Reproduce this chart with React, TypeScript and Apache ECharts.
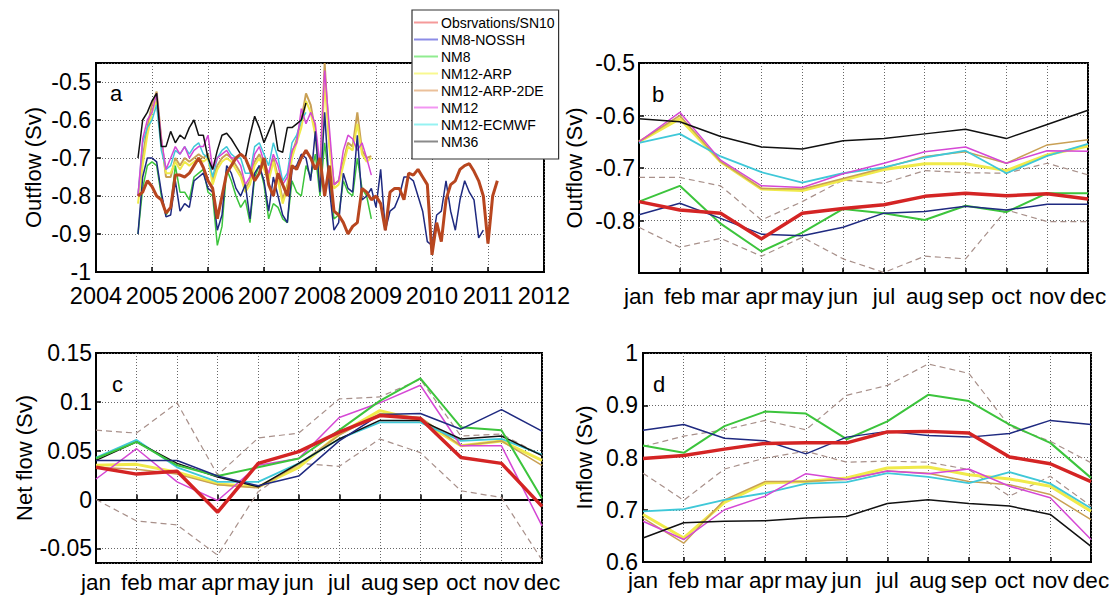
import React, { useEffect, useRef } from 'react';
import * as echarts from 'echarts';

const NAMES = ['Obsrvations/SN10', 'NM8-NOSSH', 'NM8', 'NM12-ARP', 'NM12-ARP-2DE', 'NM12', 'NM12-ECMWF', 'NM36'];
const MONTHS = ['jan', 'feb', 'mar', 'apr', 'may', 'jun', 'jul', 'aug', 'sep', 'oct', 'nov', 'dec'];
const A_START = 2004.75; // Oct 2004, monthly values

// Panel a: monthly outflow time series (Sv)
const obsA = [
  -0.80, -0.79, -0.76,
  -0.775, -0.80, -0.81, -0.845, -0.83, -0.745, -0.745, -0.75, -0.74, -0.72, -0.70, -0.725,
  -0.76, -0.78, -0.86, -0.80, -0.74, -0.72, -0.70, -0.69, -0.70, -0.73, -0.76, -0.74,
  -0.70, -0.77, -0.80, -0.74, -0.77, -0.80, -0.72, -0.73, -0.70, -0.68, -0.70, -0.73,
  -0.70, -0.80, -0.72, -0.84, -0.85, -0.87, -0.90, -0.88, -0.87, -0.78, -0.79, -0.81,
  -0.80, -0.82, -0.89, -0.79, -0.78, -0.78, -0.81, -0.74, -0.745, -0.73, -0.75, -0.77,
  -0.955, -0.87, -0.92, -0.81, -0.77, -0.76, -0.73, -0.72, -0.715, -0.735, -0.76, -0.80,
  -0.925, -0.80, -0.76,
];
const nosshA = [
  -0.90, -0.75, -0.70,
  -0.70, -0.71, -0.79, -0.855, -0.85, -0.76, -0.84, -0.82, -0.83, -0.76, -0.75, -0.74,
  -0.78, -0.79, -0.89, -0.85, -0.72, -0.74, -0.78, -0.80, -0.77, -0.86, -0.74, -0.72,
  -0.76, -0.84, -0.75, -0.80, -0.85, -0.87, -0.73, -0.72, -0.69, -0.70, -0.76, -0.63,
  -0.79, -0.58, -0.78, -0.89, -0.87, -0.74, -0.78, -0.79, -0.64, -0.81, -0.80, -0.78,
  -0.83, -0.73, -0.89, -0.84, -0.83, -0.80, -0.75, -0.75, -0.76, -0.80, -0.84, -0.92,
  -0.93, -0.85, -0.84, -0.76, -0.84, -0.89, -0.81, -0.76, -0.79, -0.81, -0.91, -0.89,
];
const nm8A = [
  -0.90, -0.78, -0.72,
  -0.71, -0.72, -0.80, -0.85, -0.83, -0.72, -0.79, -0.79, -0.81, -0.75, -0.74, -0.73,
  -0.79, -0.80, -0.93, -0.88, -0.73, -0.76, -0.80, -0.83, -0.81, -0.87, -0.75, -0.72,
  -0.77, -0.86, -0.82, -0.83, -0.86, -0.87, -0.76, -0.79, -0.80, -0.72, -0.75, -0.69,
  -0.80, -0.66, -0.76, -0.86, -0.85, -0.76, -0.79, -0.80, -0.70, -0.78, -0.80, -0.86,
];
const arpA = [
  -0.82, -0.72, -0.64,
  -0.58, -0.55, -0.66, -0.74, -0.74, -0.71, -0.73, -0.71, -0.72, -0.71, -0.70, -0.71,
  -0.70, -0.77, -0.73, -0.71, -0.70, -0.71, -0.73, -0.75, -0.79, -0.77, -0.72, -0.70,
  -0.73, -0.76, -0.71, -0.76, -0.82, -0.78, -0.70, -0.66, -0.62, -0.55, -0.58, -0.64,
  -0.76, -0.50, -0.67, -0.78, -0.77, -0.72, -0.67, -0.68, -0.61, -0.69, -0.71, -0.70,
];
const arp2deA = [
  -0.80, -0.70, -0.62,
  -0.56, -0.525, -0.65, -0.75, -0.75, -0.70, -0.72, -0.70, -0.71, -0.70, -0.69, -0.70,
  -0.69, -0.76, -0.72, -0.70, -0.69, -0.70, -0.72, -0.74, -0.78, -0.76, -0.71, -0.69,
  -0.72, -0.75, -0.70, -0.75, -0.81, -0.77, -0.69, -0.65, -0.60, -0.53, -0.56, -0.63,
  -0.75, -0.45, -0.66, -0.77, -0.76, -0.71, -0.66, -0.67, -0.58, -0.68, -0.70, -0.695,
];
const nm12A = [
  -0.80, -0.65, -0.60,
  -0.58, -0.53, -0.65, -0.73, -0.70, -0.67, -0.69, -0.67, -0.70, -0.68, -0.67, -0.67,
  -0.64, -0.73, -0.70, -0.69, -0.68, -0.70, -0.70, -0.72, -0.77, -0.75, -0.69, -0.67,
  -0.71, -0.74, -0.69, -0.72, -0.77, -0.75, -0.68, -0.66, -0.57, -0.61, -0.58, -0.61,
  -0.72, -0.47, -0.62, -0.77, -0.76, -0.68, -0.64, -0.65, -0.68, -0.66, -0.70, -0.745,
];
const ecmwfA = [
  -0.80, -0.66, -0.62,
  -0.60, -0.56, -0.68, -0.73, -0.72, -0.68, -0.69, -0.67, -0.69, -0.67, -0.66, -0.69,
  -0.70, -0.75, -0.70, -0.68, -0.67, -0.69, -0.70, -0.70, -0.74, -0.74, -0.67, -0.66,
  -0.69, -0.72, -0.66, -0.70, -0.76, -0.74, -0.66, -0.64, -0.60, -0.58,
];
const nm36A = [
  -0.70, -0.60, -0.58,
  -0.55, -0.53, -0.67, -0.67, -0.63, -0.66, -0.64, -0.65, -0.62, -0.60, -0.64, -0.64,
  -0.70, -0.73, -0.68, -0.64, -0.635, -0.65, -0.67, -0.69, -0.70, -0.64, -0.59, -0.62,
  -0.66, -0.63, -0.60, -0.68, -0.685, -0.62, -0.62, -0.61, -0.60, -0.555,
];

// Panel b: monthly climatology of outflow (Sv)
const obsB = [-0.764, -0.78, -0.786, -0.835, -0.786, -0.777, -0.77, -0.754, -0.748, -0.753, -0.749, -0.759];
const nosshB = [-0.789, -0.767, -0.796, -0.826, -0.829, -0.813, -0.786, -0.783, -0.773, -0.78, -0.769, -0.769];
const nm8B = [-0.764, -0.734, -0.806, -0.859, -0.823, -0.778, -0.786, -0.799, -0.772, -0.784, -0.748, -0.748];
const arpB = [-0.65, -0.606, -0.688, -0.74, -0.743, -0.723, -0.703, -0.692, -0.692, -0.705, -0.675, -0.658];
const arp2deB = [-0.65, -0.6, -0.688, -0.739, -0.74, -0.72, -0.7, -0.678, -0.669, -0.691, -0.656, -0.646];
const nm12B = [-0.65, -0.594, -0.685, -0.734, -0.737, -0.711, -0.691, -0.669, -0.66, -0.691, -0.667, -0.668];
const ecmwfB = [-0.652, -0.635, -0.678, -0.708, -0.728, -0.71, -0.699, -0.68, -0.667, -0.71, -0.677, -0.654];
const nm36B = [-0.606, -0.612, -0.64, -0.66, -0.664, -0.648, -0.644, -0.635, -0.626, -0.644, -0.617, -0.59];
const upB = [-0.718, -0.718, -0.734, -0.799, -0.764, -0.723, -0.729, -0.705, -0.709, -0.71, -0.691, -0.713];
const loB = [-0.813, -0.851, -0.834, -0.868, -0.832, -0.873, -0.899, -0.868, -0.873, -0.78, -0.802, -0.802];

// Panel c: net flow (Sv)
const obsC = [0.033, 0.026, 0.029, -0.013, 0.037, 0.049, 0.069, 0.086, 0.083, 0.043, 0.037, -0.007];
const nosshC = [0.04, 0.04, 0.04, 0.024, 0.014, 0.024, 0.06, 0.087, 0.088, 0.072, 0.092, 0.07];
const nm8C = [0.042, 0.059, 0.035, 0.024, 0.033, 0.042, 0.071, 0.101, 0.124, 0.074, 0.071, 0.001];
const arpC = [0.035, 0.036, 0.028, 0.016, 0.013, 0.033, 0.067, 0.091, 0.081, 0.055, 0.06, 0.04];
const arp2deC = [0.033, 0.031, 0.026, 0.015, 0.012, 0.036, 0.066, 0.088, 0.084, 0.055, 0.06, 0.035];
const nm12C = [0.021, 0.052, 0.018, -0.001, 0.035, 0.042, 0.084, 0.099, 0.117, 0.055, 0.055, -0.027];
const ecmwfC = [0.043, 0.061, 0.033, 0.018, 0.018, 0.037, 0.062, 0.079, 0.079, 0.06, 0.062, 0.046];
const nm36C = [0.04, 0.059, 0.037, 0.023, 0.013, 0.037, 0.062, 0.081, 0.081, 0.062, 0.065, 0.045];
const upC = [0.071, 0.068, 0.099, 0.025, 0.063, 0.068, 0.103, 0.105, 0.123, 0.065, 0.067, 0.045];
const loC = [0, -0.022, -0.026, -0.057, 0.008, 0.037, 0.034, 0.062, 0.048, 0.009, 0.002, -0.062];

// Panel d: inflow (Sv)
const obsD = [0.798, 0.804, 0.816, 0.827, 0.828, 0.828, 0.849, 0.85, 0.847, 0.801, 0.788, 0.754];
const nosshD = [0.852, 0.863, 0.837, 0.832, 0.807, 0.839, 0.85, 0.842, 0.839, 0.846, 0.871, 0.863];
const nm8D = [0.823, 0.809, 0.86, 0.888, 0.884, 0.835, 0.869, 0.92, 0.908, 0.863, 0.828, 0.761];
const arpD = [0.691, 0.646, 0.714, 0.751, 0.754, 0.761, 0.78, 0.782, 0.767, 0.759, 0.745, 0.697];
const arp2deD = [0.684, 0.636, 0.719, 0.754, 0.754, 0.758, 0.774, 0.77, 0.754, 0.748, 0.729, 0.681];
const nm12D = [0.678, 0.643, 0.7, 0.726, 0.769, 0.758, 0.774, 0.769, 0.778, 0.745, 0.723, 0.643];
const ecmwfD = [0.697, 0.701, 0.719, 0.732, 0.75, 0.753, 0.77, 0.763, 0.751, 0.772, 0.75, 0.703];
const nm36D = [0.646, 0.675, 0.678, 0.679, 0.684, 0.687, 0.712, 0.719, 0.712, 0.707, 0.691, 0.63];
const upD = [0.821, 0.841, 0.853, 0.871, 0.853, 0.919, 0.938, 0.979, 0.961, 0.86, 0.831, 0.79];
const loD = [0.77, 0.718, 0.778, 0.799, 0.812, 0.791, 0.793, 0.791, 0.777, 0.726, 0.764, 0.707];

const FONT = 'Liberation Sans, Arial, Helvetica, sans-serif';
const COL = {
  obsA: '#b8461f', obs: '#d42424', nossh: '#1f2a80', nm8: '#3cc43c', arp: '#f0ea4a',
  arp2de: '#c9a055', nm12: '#d548d5', ecmwf: '#3fc8d8', nm36: '#111111', dash: '#a8908a',
};
const LEGEND_COL = ['#f59a9a', '#8c8ce6', '#90ec90', '#f8f890', '#ebc09a', '#f296f2', '#96f2f2', '#8a8a8a'];

function line(name: string, data: any[], color: string, width: number, idx: number, dashed = false, z = 2) {
  return {
    type: 'line', name, data, xAxisIndex: idx, yAxisIndex: idx,
    showSymbol: false, symbol: 'none', silent: true, z,
    itemStyle: { color },
    lineStyle: { color, width, type: dashed ? [6, 4] : 'solid' },
  };
}

const tA = (arr: number[]) => arr.map((v, i) => [A_START + i / 12, v]);

export default function App() {
  const ref = useRef<HTMLDivElement>(null);
  useEffect(() => {
    if (!ref.current) return;
    const chart = echarts.init(ref.current, null, { renderer: 'svg' });
    const gridLine = { show: true, lineStyle: { color: '#666', width: 1, type: [1, 2] } };
    const axisLine = { show: true, lineStyle: { color: '#000', width: 2 } };
    const axisTick = { show: true, inside: true, length: 5, lineStyle: { color: '#000', width: 1.5 } };
    const labelStyle = { color: '#000', fontFamily: FONT };
    const nameStyle = { color: '#000', fontFamily: FONT, fontSize: 22 };
    const tenth = (v: number) => (Math.abs(Math.round(v * 10) - v * 10) < 1e-6 ? String(+v.toFixed(1)) : '');

    const grids = [
      { left: 96, top: 63, width: 448, height: 209 },
      { left: 639, top: 63, width: 449, height: 210 },
      { left: 96, top: 353, width: 446, height: 210 },
      { left: 643, top: 353, width: 448, height: 209 },
    ].map((g) => ({ ...g, show: true, borderColor: '#000', borderWidth: 2, backgroundColor: '#fff', containLabel: false }));

    const monthAxis = (gi: number, margin: number) => ({
      type: 'category', gridIndex: gi, data: MONTHS, boundaryGap: false,
      axisLine, axisTick: { ...axisTick, alignWithLabel: true, interval: 0 },
      splitLine: { ...gridLine, interval: 0 },
      axisLabel: { ...labelStyle, fontSize: 22.5, interval: 0, margin },
    });

    const option: any = {
      animation: false,
      backgroundColor: '#fff',
      textStyle: { fontFamily: FONT },
      grid: grids,
      legend: {
        orient: 'vertical', left: 412, top: 10, selectedMode: false,
        backgroundColor: '#fff', borderColor: '#333', borderWidth: 1.2,
        padding: [5, 4, 10, 2], itemWidth: 24, itemHeight: 2, itemGap: 2, icon: 'rect',
        textStyle: { fontSize: 14, fontFamily: FONT, color: '#000', lineHeight: 15, padding: [0, 0, 0, -2] },
        data: NAMES.map((n, i) => ({ name: n, itemStyle: { color: LEGEND_COL[i] } })),
        z: 10,
      },
      xAxis: [
        {
          type: 'value', gridIndex: 0, min: 2004, max: 2012, interval: 1,
          axisLine, axisTick, splitLine: gridLine,
          axisLabel: { ...labelStyle, fontSize: 23.5, margin: 12, formatter: (v: number) => String(v) },
        },
        monthAxis(1, 12),
        monthAxis(2, 8),
        monthAxis(3, 7),
      ],
      yAxis: [
        {
          type: 'value', gridIndex: 0, min: -1, max: -0.45, interval: 0.1,
          axisLine, axisTick, splitLine: gridLine,
          name: 'Outflow (Sv)', nameLocation: 'middle', nameGap: 52, nameTextStyle: nameStyle,
          axisLabel: { ...labelStyle, fontSize: 23, margin: 5, formatter: tenth },
        },
        {
          type: 'value', gridIndex: 1, min: -0.9, max: -0.5, interval: 0.1,
          axisLine, axisTick, splitLine: gridLine,
          name: 'Outflow (Sv)', nameLocation: 'middle', nameGap: 54, nameTextStyle: nameStyle,
          axisLabel: { ...labelStyle, fontSize: 23, margin: 4, formatter: (v: number) => (v < -0.85 ? '' : tenth(v)) },
        },
        {
          type: 'value', gridIndex: 2, min: -0.065, max: 0.15, splitNumber: 4,
          axisLine, axisTick, splitLine: gridLine,
          name: 'Net flow (Sv)', nameLocation: 'middle', nameGap: 60, nameTextStyle: nameStyle,
          axisLabel: {
            ...labelStyle, fontSize: 23, margin: 4,
            formatter: (v: number) => (Math.abs(Math.round(v * 20) - v * 20) < 1e-6 ? String(+v.toFixed(2)) : ''),
          },
        },
        {
          type: 'value', gridIndex: 3, min: 0.6, max: 1, interval: 0.1,
          axisLine, axisTick, splitLine: gridLine,
          name: 'Inflow (Sv)', nameLocation: 'middle', nameGap: 48, nameTextStyle: nameStyle,
          axisLabel: { ...labelStyle, fontSize: 23, margin: 5, formatter: tenth },
        },
      ],
      series: [
        // panel a
        line(NAMES[4], tA(arp2deA), COL.arp2de, 2, 0),
        line(NAMES[3], tA(arpA), COL.arp, 2, 0),
        line(NAMES[6], tA(ecmwfA), COL.ecmwf, 1.5, 0),
        line(NAMES[5], tA(nm12A), COL.nm12, 1.5, 0),
        line(NAMES[7], tA(nm36A), COL.nm36, 1.5, 0),
        line(NAMES[2], tA(nm8A), COL.nm8, 1.5, 0),
        line(NAMES[1], tA(nosshA), COL.nossh, 1.5, 0),
        line(NAMES[0], tA(obsA), COL.obsA, 3, 0, false, 3),
        // panels b, c, d
        ...[
          [obsB, nosshB, nm8B, arpB, arp2deB, nm12B, ecmwfB, nm36B, upB, loB],
          [obsC, nosshC, nm8C, arpC, arp2deC, nm12C, ecmwfC, nm36C, upC, loC],
          [obsD, nosshD, nm8D, arpD, arp2deD, nm12D, ecmwfD, nm36D, upD, loD],
        ].flatMap((s, k) => {
          const i = k + 1;
          return [
            line('obs + std', s[8], COL.dash, 1.2, i, true),
            line('obs - std', s[9], COL.dash, 1.2, i, true),
            line(NAMES[3], s[3], COL.arp, 3, i),
            line(NAMES[4], s[4], COL.arp2de, 1.5, i),
            line(NAMES[6], s[6], COL.ecmwf, 1.8, i),
            line(NAMES[5], s[5], COL.nm12, 1.5, i),
            line(NAMES[7], s[7], COL.nm36, 1.5, i),
            line(NAMES[2], s[2], COL.nm8, 2, i),
            line(NAMES[1], s[1], COL.nossh, 1.5, i),
            line(NAMES[0], s[0], COL.obs, 3.5, i, false, 3),
          ];
        }),
      ],
      graphic: [
        { type: 'text', left: 110, top: 82, style: { text: 'a', fontSize: 22, fontFamily: FONT, fill: '#000' } },
        { type: 'text', left: 652, top: 83, style: { text: 'b', fontSize: 22, fontFamily: FONT, fill: '#000' } },
        { type: 'text', left: 112, top: 373, style: { text: 'c', fontSize: 22, fontFamily: FONT, fill: '#000' } },
        { type: 'text', left: 653, top: 373, style: { text: 'd', fontSize: 22, fontFamily: FONT, fill: '#000' } },
      ],
    };
    chart.setOption(option);
    return () => chart.dispose();
  }, []);
  return <div ref={ref} style={{ position: 'absolute', left: 0, top: 0, width: 1115, height: 597 }} />;
}
